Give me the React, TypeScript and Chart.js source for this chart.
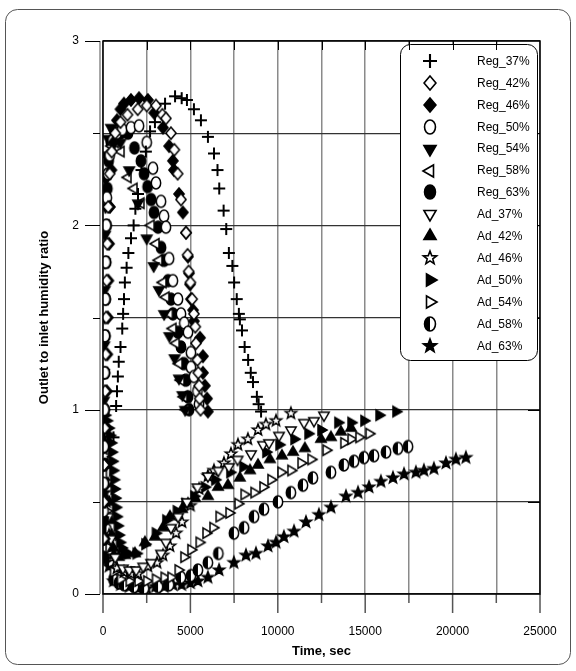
import React, { useEffect, useRef } from 'react';
import { Chart, registerables } from 'chart.js';
Chart.register(...registerables);

// ---- data: [time (s), outlet/inlet humidity ratio] ----
const reg37: [number, number][] = [
  [600, 0.85], [750, 1.02], [800, 1.1], [850, 1.18], [900, 1.26], [1000, 1.34], [1100, 1.44], [1150, 1.52],
  [1200, 1.6], [1250, 1.69], [1350, 1.77], [1450, 1.85], [1600, 1.93], [1750, 2.0], [1850, 2.09], [2000, 2.17],
  [2200, 2.3], [2450, 2.4], [2690, 2.51], [2970, 2.56], [3550, 2.66], [4120, 2.7], [4500, 2.69], [4800, 2.68],
  [5200, 2.63], [5600, 2.57], [6000, 2.48], [6350, 2.39], [6550, 2.3], [6650, 2.2], [6900, 2.08], [7050, 1.98],
  [7200, 1.85], [7400, 1.78], [7500, 1.69], [7650, 1.6], [7770, 1.52], [7830, 1.49], [7950, 1.43], [8100, 1.34],
  [8300, 1.27], [8450, 1.2], [8580, 1.15], [8800, 1.07], [8900, 1.03], [9040, 0.99],
];
const reg42: [number, number][] = [
  [30, 0.3], [45, 0.5], [60, 0.7], [90, 0.9], [120, 1.1], [150, 1.3], [180, 1.5], [210, 1.7], [250, 1.9],
  [300, 2.1], [380, 2.28], [500, 2.4], [700, 2.5], [1000, 2.56], [1400, 2.6], [1985, 2.63], [2500, 2.65],
  [3030, 2.65], [3400, 2.6], [3600, 2.58], [3890, 2.5], [4080, 2.41], [4270, 2.28], [4460, 2.14], [4750, 1.96],
  [4840, 1.84], [4900, 1.75], [5000, 1.69], [5100, 1.6], [5200, 1.52], [5280, 1.45], [5320, 1.36], [5400, 1.27],
  [5450, 1.2], [5500, 1.13], [5530, 1.06], [5580, 1.0],
];
const reg46: [number, number][] = [
  [100, 0.3], [130, 0.5], [160, 0.7], [190, 0.9], [220, 1.1], [250, 1.3], [280, 1.5], [310, 1.7], [350, 1.9],
  [400, 2.1], [480, 2.3], [600, 2.45], [800, 2.57], [1000, 2.63], [1200, 2.66], [1600, 2.68], [2060, 2.69],
  [2570, 2.68], [2930, 2.61], [3430, 2.53], [3780, 2.43], [4000, 2.35], [4060, 2.3], [4350, 2.17], [4570, 2.07],
  [4750, 1.96], [4860, 1.83], [4920, 1.74], [4980, 1.68], [5030, 1.6], [5150, 1.54], [5200, 1.48], [5550, 1.39],
  [5720, 1.29], [5720, 1.2], [5830, 1.13], [5950, 1.06], [6000, 0.99],
];
const reg50: [number, number][] = [
  [20, 0.3], [30, 0.45], [40, 0.6], [50, 0.8], [70, 1.0], [90, 1.2], [110, 1.4], [130, 1.6], [150, 1.8],
  [180, 2.0], [220, 2.15], [280, 2.28], [380, 2.38], [550, 2.46], [800, 2.5], [1100, 2.52], [1600, 2.53],
  [2060, 2.54], [2500, 2.45], [2860, 2.31], [3030, 2.23], [3320, 2.13], [3490, 2.05], [3600, 1.99], [3780, 1.82],
  [4000, 1.7], [4290, 1.6], [4460, 1.52], [4650, 1.47], [4860, 1.42], [5030, 1.31], [5030, 1.23], [5200, 1.18],
  [5400, 1.1], [5490, 1.03],
];
const reg54: [number, number][] = [
  [0, 0.2], [5, 0.3], [10, 0.4], [20, 0.5], [30, 0.7], [40, 0.9], [50, 1.05], [60, 1.2], [70, 1.35], [80, 1.5],
  [90, 1.65], [100, 1.8], [120, 1.95], [140, 2.1], [170, 2.25], [220, 2.38], [300, 2.47], [460, 2.53], [650, 2.5],
  [1000, 2.45], [1500, 2.3], [2000, 2.12], [2500, 1.93], [2900, 1.78], [3200, 1.65], [3500, 1.52], [3800, 1.4],
  [4100, 1.28], [4350, 1.17], [4550, 1.08], [4700, 1.0],
];
const reg58: [number, number][] = [
  [10, 0.3], [20, 0.5], [25, 0.65], [30, 0.8], [50, 1.0], [70, 1.2], [90, 1.4], [110, 1.6], [130, 1.8],
  [160, 2.0], [200, 2.15], [260, 2.28], [350, 2.37], [500, 2.43], [700, 2.45], [1030, 2.4], [1430, 2.26],
  [1770, 2.2], [2170, 2.12], [2750, 2.0], [3030, 1.9], [3200, 1.81], [3430, 1.69], [3600, 1.61], [3800, 1.52],
  [4000, 1.44], [4180, 1.36], [4350, 1.25], [4460, 1.16], [4630, 1.07], [4750, 1.0],
];
const reg63: [number, number][] = [
  [20, 0.2], [30, 0.3], [40, 0.4], [50, 0.5], [60, 0.6], [80, 0.8], [100, 1.0], [120, 1.2], [140, 1.4],
  [160, 1.6], [180, 1.8], [210, 2.0], [250, 2.2], [320, 2.35], [450, 2.45], [700, 2.5], [1000, 2.5], [1430, 2.5],
  [1800, 2.42], [2170, 2.35], [2350, 2.28], [2550, 2.21], [2750, 2.14], [2920, 2.07], [3150, 1.99], [3320, 1.88],
  [3500, 1.81], [3720, 1.7], [3890, 1.6], [4000, 1.52], [4290, 1.42], [4460, 1.34], [4630, 1.25], [4750, 1.16],
  [4860, 1.07], [4920, 1.0],
];
const ad37: [number, number][] = [
  [0, 1.0], [100, 0.8], [200, 0.6], [300, 0.42], [450, 0.3], [700, 0.2], [1140, 0.14], [1500, 0.13], [1900, 0.13],
  [2300, 0.15], [2750, 0.17], [3320, 0.22], [3600, 0.28], [3890, 0.36], [4300, 0.42], [4800, 0.5], [5400, 0.58],
  [6000, 0.64], [6600, 0.67], [7200, 0.69], [7700, 0.73], [8470, 0.76], [9150, 0.81], [9500, 0.82], [10070, 0.86],
  [10750, 0.89], [11500, 0.93], [12070, 0.94], [12640, 0.97],
];
const ad42: [number, number][] = [
  [0, 1.0], [80, 0.9], [150, 0.8], [220, 0.7], [290, 0.6], [360, 0.5], [430, 0.4], [500, 0.32], [580, 0.25],
  [650, 0.21], [900, 0.2], [1260, 0.21], [1830, 0.22], [2400, 0.28], [2970, 0.31], [3430, 0.36], [3830, 0.42],
  [4520, 0.46], [4860, 0.49], [5260, 0.52], [6000, 0.53], [6580, 0.58], [7150, 0.59], [7830, 0.63], [8410, 0.67],
  [8870, 0.7], [9550, 0.73], [10240, 0.75], [10870, 0.77], [11550, 0.79], [12470, 0.84], [13040, 0.85],
  [13610, 0.88], [14190, 0.9],
];
const ad46: [number, number][] = [
  [0, 1.0], [100, 0.75], [200, 0.5], [350, 0.32], [550, 0.2], [800, 0.14], [1200, 0.12], [1600, 0.11], [2000, 0.11],
  [2570, 0.15], [3090, 0.17], [3430, 0.21], [3830, 0.26], [4180, 0.33], [4520, 0.39], [5000, 0.48], [5500, 0.57],
  [6000, 0.64], [6350, 0.67], [6920, 0.71], [7320, 0.76], [7720, 0.81], [8290, 0.84], [8870, 0.89], [9320, 0.92],
  [9900, 0.94], [10750, 0.98],
];
const ad50: [number, number][] = [
  [0, 1.0], [100, 0.97], [200, 0.94], [300, 0.9], [380, 0.86], [440, 0.82], [480, 0.77], [520, 0.72], [560, 0.67],
  [600, 0.62], [640, 0.57], [680, 0.52], [720, 0.47], [760, 0.42], [820, 0.37], [880, 0.32], [950, 0.28],
  [1050, 0.25], [1200, 0.23], [1400, 0.22], [1900, 0.22], [2400, 0.27], [3000, 0.33], [3600, 0.4], [4200, 0.45],
  [4700, 0.49], [5200, 0.53], [5800, 0.58], [6400, 0.62], [7260, 0.66], [8010, 0.69], [9320, 0.77], [10070, 0.81],
  [10930, 0.84], [11730, 0.87], [12470, 0.89], [13440, 0.93], [14190, 0.93], [14930, 0.94], [15790, 0.97],
  [16760, 0.99],
];
const ad54: [number, number][] = [
  [0, 1.0], [100, 0.7], [200, 0.45], [350, 0.25], [600, 0.12], [1000, 0.08], [1500, 0.07], [2000, 0.07],
  [2500, 0.07], [3000, 0.08], [3500, 0.09], [3890, 0.09], [4300, 0.13], [4630, 0.2], [5030, 0.24], [5500, 0.28],
  [5890, 0.33], [6290, 0.36], [6640, 0.42], [7210, 0.44], [7720, 0.49], [8070, 0.54], [8640, 0.55], [9150, 0.58],
  [9610, 0.62], [10180, 0.66], [10750, 0.67], [11330, 0.71], [11900, 0.73], [12760, 0.78], [13780, 0.82],
  [14190, 0.84], [14640, 0.85], [15220, 0.87],
];
const ad58: [number, number][] = [
  [0, 0.9], [100, 0.6], [200, 0.35], [350, 0.18], [600, 0.08], [900, 0.06], [1200, 0.05], [1770, 0.04],
  [2350, 0.03], [3150, 0.04], [3780, 0.05], [4460, 0.09], [5030, 0.1], [5430, 0.13], [6000, 0.17], [6600, 0.22],
  [7490, 0.33], [8070, 0.36], [8640, 0.42], [9210, 0.46], [10010, 0.5], [10750, 0.55], [11440, 0.59],
  [12010, 0.63], [13040, 0.66], [13780, 0.7], [14360, 0.72], [14930, 0.74], [15500, 0.75], [16190, 0.77],
  [16870, 0.79], [17450, 0.8],
];
const ad63: [number, number][] = [
  [0, 0.85], [100, 0.55], [200, 0.3], [350, 0.15], [600, 0.07], [1000, 0.05], [1500, 0.04], [2000, 0.03],
  [2500, 0.03], [3000, 0.04], [3500, 0.04], [4000, 0.05], [4500, 0.05], [5000, 0.06], [5430, 0.07], [6000, 0.09],
  [6640, 0.13], [7490, 0.17], [8180, 0.21], [8750, 0.22], [9440, 0.26], [9900, 0.28], [10350, 0.31],
  [10930, 0.34], [11610, 0.39], [12350, 0.43], [13040, 0.47], [13900, 0.53], [14590, 0.55], [15220, 0.58],
  [15900, 0.61], [16590, 0.63], [17220, 0.65], [17900, 0.66], [18360, 0.67], [18930, 0.68], [19620, 0.71],
  [20190, 0.73], [20760, 0.74],
];

const seriesNames = [
  'Reg_37%', 'Reg_42%', 'Reg_46%', 'Reg_50%', 'Reg_54%', 'Reg_58%', 'Reg_63%',
  'Ad_37%', 'Ad_42%', 'Ad_46%', 'Ad_50%', 'Ad_54%', 'Ad_58%', 'Ad_63%',
];
const seriesData = [reg37, reg42, reg46, reg50, reg54, reg58, reg63, ad37, ad42, ad46, ad50, ad54, ad58, ad63];
const xMin = 0, xMax = 25000, xStep = 2500, xLabelStep = 5000;
const yMin = 0, yMax = 3, yStep = 0.5, yLabelStep = 1;
const xTitle = 'Time, sec';
const yTitle = 'Outlet to inlet humidity ratio';

// ---- marker styles ----
const markerKinds = [
  'plus', 'diamondO', 'diamondF', 'circleO', 'triDownF', 'triLeftO', 'circleF',
  'triDownO', 'triUpF', 'starO', 'triRightF', 'triRightO', 'halfC', 'starF',
];

const FONT = '"Liberation Sans", Arial, sans-serif';

function makeMarker(kind: string, r: number, lw: number): HTMLCanvasElement {
  const size = Math.ceil(2 * r + 6);
  const c = document.createElement('canvas');
  c.width = size;
  c.height = size;
  const g = c.getContext('2d')!;
  g.translate(size / 2, size / 2);
  g.lineWidth = lw;
  g.strokeStyle = '#000';
  g.lineJoin = 'miter';
  const open = kind.endsWith('O');
  const poly = (pts: number[][]) => {
    g.beginPath();
    pts.forEach((p, i) => (i ? g.lineTo(p[0], p[1]) : g.moveTo(p[0], p[1])));
    g.closePath();
  };
  const tri = (deg: number) => {
    const pts: number[][] = [];
    for (let k = 0; k < 3; k++) {
      const a = ((deg + k * 120) * Math.PI) / 180;
      pts.push([Math.cos(a) * r, Math.sin(a) * r]);
    }
    poly(pts);
  };
  const star = () => {
    const pts: number[][] = [];
    for (let k = 0; k < 10; k++) {
      const a = ((-90 + k * 36) * Math.PI) / 180;
      const rr = k % 2 === 0 ? r : r * 0.42;
      pts.push([Math.cos(a) * rr, Math.sin(a) * rr]);
    }
    poly(pts);
  };
  const paint = () => {
    g.fillStyle = open ? '#fff' : '#000';
    g.fill();
    g.stroke();
  };
  switch (kind) {
    case 'plus':
      g.lineWidth = lw + 0.5;
      g.beginPath();
      g.moveTo(-r, 0); g.lineTo(r, 0);
      g.moveTo(0, -r); g.lineTo(0, r);
      g.stroke();
      break;
    case 'diamondO':
    case 'diamondF':
      poly([[0, -r], [r * 0.85, 0], [0, r], [-r * 0.85, 0]]);
      paint();
      break;
    case 'circleO':
    case 'circleF':
      g.beginPath();
      g.ellipse(0, 0, r * 0.78, r, 0, 0, Math.PI * 2);
      paint();
      break;
    case 'halfC':
      g.beginPath();
      g.ellipse(0, 0, r * 0.78, r, 0, 0, Math.PI * 2);
      g.fillStyle = '#fff';
      g.fill();
      g.beginPath();
      g.ellipse(0, 0, r * 0.78, r, 0, Math.PI / 2, Math.PI * 1.5);
      g.closePath();
      g.fillStyle = '#000';
      g.fill();
      g.beginPath();
      g.ellipse(0, 0, r * 0.78, r, 0, 0, Math.PI * 2);
      g.stroke();
      break;
    case 'triDownF':
    case 'triDownO':
      tri(90);
      paint();
      break;
    case 'triUpF':
      tri(-90);
      paint();
      break;
    case 'triLeftO':
      tri(180);
      paint();
      break;
    case 'triRightF':
    case 'triRightO':
      tri(0);
      paint();
      break;
    case 'starO':
    case 'starF':
      star();
      paint();
      break;
  }
  return c;
}

export default function App() {
  const ref = useRef<HTMLCanvasElement | null>(null);
  useEffect(() => {
    if (!ref.current) return;
    const plotMarkers = markerKinds.map((k) => makeMarker(k, 6, 1.5));
    const legendMarkers = markerKinds.map((k) => makeMarker(k, 7, 1.6));

    const decorPlugin = {
      id: 'decor',
      beforeDraw(chart: any) {
        const ctx = chart.ctx as CanvasRenderingContext2D;
        ctx.save();
        ctx.fillStyle = '#fff';
        ctx.fillRect(0, 0, chart.width, chart.height);
        ctx.strokeStyle = '#555';
        ctx.lineWidth = 1;
        ctx.beginPath();
        (ctx as any).roundRect(5.5, 9.5, 565, 655, 12);
        ctx.stroke();
        ctx.restore();
      },
      afterDatasetsDraw(chart: any) {
        const ctx = chart.ctx as CanvasRenderingContext2D;
        const { left, right, top, bottom } = chart.chartArea;
        const xs = chart.scales.x;
        const ys = chart.scales.y;
        ctx.save();
        // gray y-axis line, slightly left of the frame
        ctx.strokeStyle = '#8a8a8a';
        ctx.lineWidth = 1.5;
        ctx.beginPath();
        ctx.moveTo(left - 3, top);
        ctx.lineTo(left - 3, bottom);
        ctx.stroke();
        // y ticks (outside)
        ctx.strokeStyle = '#000';
        ctx.lineWidth = 1;
        for (let v = yMin; v <= yMax + 1e-9; v += yStep) {
          const y = Math.round(ys.getPixelForValue(v)) + 0.5;
          const len = Math.abs(v % yLabelStep) < 1e-9 ? 15 : 7;
          ctx.beginPath();
          ctx.moveTo(left - 3 - len, y);
          ctx.lineTo(left - 3, y);
          ctx.stroke();
        }
        // x ticks (outside)
        ctx.strokeStyle = '#555';
        ctx.lineWidth = 1.5;
        for (let v = xMin; v <= xMax; v += xStep) {
          const x = xs.getPixelForValue(v);
          const len = v % xLabelStep === 0 ? 19 : 9;
          ctx.beginPath();
          ctx.moveTo(x, bottom);
          ctx.lineTo(x, bottom + len);
          ctx.stroke();
        }
        // right inside ticks
        ctx.strokeStyle = '#000';
        ctx.lineWidth = 1;
        for (let v = yMin + yStep; v < yMax; v += yStep) {
          const y = Math.round(ys.getPixelForValue(v)) + 0.5;
          ctx.beginPath();
          ctx.moveTo(right - 12, y);
          ctx.lineTo(right, y);
          ctx.stroke();
        }
        // legend box
        const lx = 400, ly = 44, lw = 137, lh = 316;
        ctx.beginPath();
        (ctx as any).roundRect(lx + 0.5, ly + 0.5, lw, lh, 10);
        ctx.fillStyle = '#fff';
        ctx.fill();
        ctx.strokeStyle = '#000';
        ctx.lineWidth = 1;
        ctx.stroke();
        ctx.font = `12px ${FONT}`;
        ctx.fillStyle = '#000';
        ctx.textAlign = 'left';
        ctx.textBaseline = 'middle';
        seriesNames.forEach((name, i) => {
          const y = 61 + i * 21.9;
          const m = legendMarkers[i];
          ctx.drawImage(m, Math.round(430 - m.width / 2), Math.round(y - m.height / 2));
          ctx.fillText(name, 477, y + 0.5);
        });
        // frame
        ctx.strokeStyle = '#000';
        ctx.lineWidth = 1.5;
        ctx.strokeRect(left, top, right - left, bottom - top);
        // top inside ticks
        ctx.lineWidth = 1;
        for (let v = xMin + xStep; v < xMax; v += xStep) {
          const x = Math.round(xs.getPixelForValue(v)) + 0.5;
          ctx.beginPath();
          ctx.moveTo(x, top);
          ctx.lineTo(x, top + 9);
          ctx.stroke();
        }
        ctx.restore();
      },
    };

    const datasets = seriesData.map((arr, i) => ({
      label: seriesNames[i],
      data: arr.map(([x, y]) => ({ x, y })),
      pointStyle: plotMarkers[i] as any,
      pointRadius: 6,
      showLine: false,
      borderColor: '#000',
      backgroundColor: '#000',
    }));

    const chart = new Chart(ref.current, {
      type: 'scatter',
      data: { datasets },
      options: {
        responsive: false,
        animation: false,
        devicePixelRatio: 1,
        layout: { padding: { left: 0, top: 41, right: 36, bottom: 0 } },
        plugins: { legend: { display: false }, tooltip: { enabled: false } },
        scales: {
          x: {
            type: 'linear',
            min: xMin,
            max: xMax,
            border: { display: false },
            grid: {
              color: '#8a8a8a',
              lineWidth: 1.5,
              drawTicks: true,
              tickLength: 27,
              tickColor: 'rgba(0,0,0,0)',
            },
            ticks: {
              stepSize: xStep,
              autoSkip: false,
              maxRotation: 0,
              padding: 3,
              color: '#000',
              font: { family: FONT, size: 12 },
              callback: (v: any) => (Number(v) % xLabelStep === 0 ? String(v) : ''),
            },
            title: {
              display: true,
              text: xTitle,
              color: '#000',
              font: { family: FONT, size: 13, weight: 'bold' },
              padding: { top: 0, bottom: 12 },
            },
            afterFit: (s: any) => {
              s.height = 77;
            },
          },
          y: {
            type: 'linear',
            min: yMin,
            max: yMax,
            border: { display: false },
            grid: {
              color: '#333',
              lineWidth: 1.2,
              drawTicks: true,
              tickLength: 21,
              tickColor: 'rgba(0,0,0,0)',
            },
            ticks: {
              stepSize: yStep,
              autoSkip: false,
              padding: 3,
              color: '#000',
              font: { family: FONT, size: 12 },
              callback: (v: any) => (Math.abs(Number(v) % yLabelStep) < 1e-9 ? String(v) : ''),
            },
            title: {
              display: true,
              text: yTitle,
              color: '#000',
              font: { family: FONT, size: 13, weight: 'bold' },
              padding: { top: 37, bottom: 0 },
            },
            afterFit: (s: any) => {
              s.width = 103;
            },
          },
        },
      } as any,
      plugins: [decorPlugin],
    });
    return () => chart.destroy();
  }, []);

  return (
    <div style={{ position: 'fixed', left: 0, top: 0, width: 576, height: 671, background: '#fff' }}>
      <canvas ref={ref} width={576} height={671} style={{ display: 'block', width: 576, height: 671 }} />
    </div>
  );
}
